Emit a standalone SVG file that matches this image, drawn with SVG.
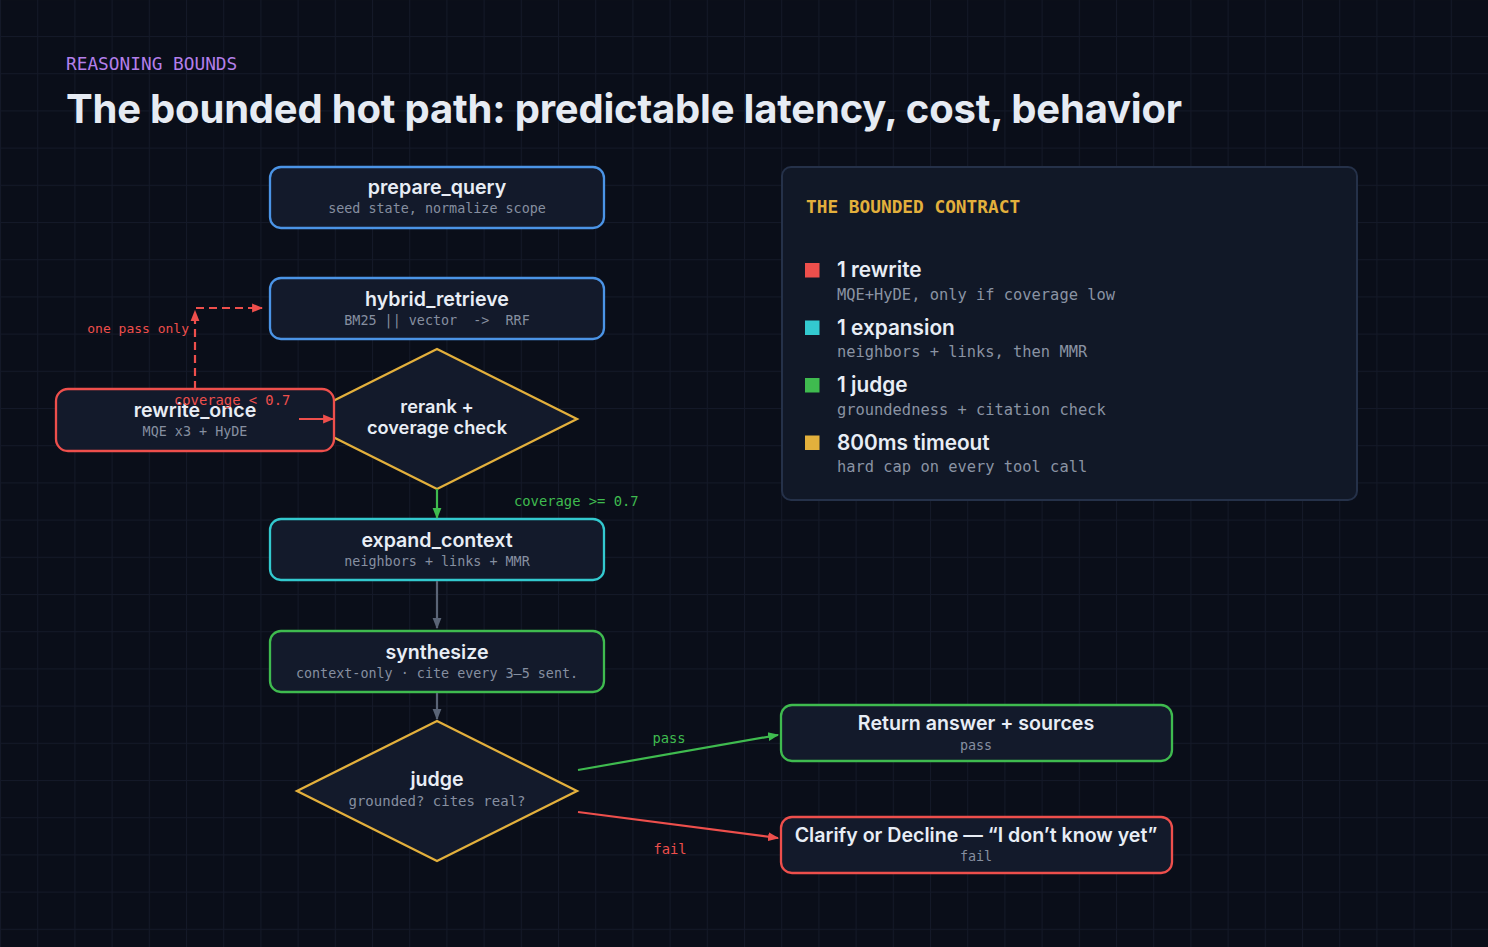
<svg xmlns="http://www.w3.org/2000/svg" width="1488" height="947" viewBox="0 0 1488 947">
  <defs>
    <style>
      .bg { fill: #0a0e19; }
      .eyebrow { font-family: "DejaVu Sans Mono", "Liberation Mono", monospace; font-size: 17.8px; font-weight: 500; }
      .title { font-family: Inter, "Liberation Sans", sans-serif; font-size: 40px; font-weight: 700; fill: #e6ebf3; letter-spacing: -0.2px; }
      .node { fill: #131a2b; stroke-width: 2.3; }
      .ntitle { font-family: Inter, "Liberation Sans", sans-serif; font-size: 19.6px; font-weight: 600; fill: #e8edf5; text-anchor: middle; }
      .nsub { font-family: "DejaVu Sans Mono", "Liberation Mono", monospace; font-size: 13.4px; fill: #868fa0; text-anchor: middle; }
      .lbl { font-family: "DejaVu Sans Mono", "Liberation Mono", monospace; font-size: 13.8px; }
      .conn { fill: none; stroke-width: 2.2; }
      .panel { fill: #111827; stroke: #253149; stroke-width: 2; }
      .ltitle { font-family: Inter, "Liberation Sans", sans-serif; font-size: 20.8px; font-weight: 600; fill: #e8edf5; }
      .lsub { font-family: "DejaVu Sans Mono", "Liberation Mono", monospace; font-size: 15.4px; fill: #8a93a3; }
      .blue { stroke: #4b94e6; }
      .red { stroke: #ee4f4c; }
      .cyan { stroke: #33c9cf; }
      .green { stroke: #3fbb4f; }
      .yellow { stroke: #e3b03c; }
      .gray { stroke: #5a6476; }
    </style>
    <pattern id="grid" patternUnits="userSpaceOnUse" x="0" y="-1.2" width="37.2" height="37.2">
      <rect x="0" y="0" width="1" height="37.2" fill="#141928"/>
      <rect x="0" y="0" width="37.2" height="1" fill="#141928"/>
    </pattern>
    <marker id="ah-green" viewBox="0 0 10 10" refX="9" refY="5" markerWidth="11" markerHeight="11" markerUnits="userSpaceOnUse" orient="auto">
      <path d="M0,1 L10,5 L0,9 z" fill="#3fbb4f"/>
    </marker>
    <marker id="ah-red" viewBox="0 0 10 10" refX="9" refY="5" markerWidth="11" markerHeight="11" markerUnits="userSpaceOnUse" orient="auto">
      <path d="M0,1 L10,5 L0,9 z" fill="#ee4f4c"/>
    </marker>
    <marker id="ah-gray" viewBox="0 0 10 10" refX="9" refY="5" markerWidth="11" markerHeight="11" markerUnits="userSpaceOnUse" orient="auto">
      <path d="M0,1 L10,5 L0,9 z" fill="#5a6476"/>
    </marker>
  </defs>

  <rect class="bg" x="0" y="0" width="1488" height="947"/>
  <rect x="0" y="0" width="1488" height="947" fill="url(#grid)"/>

  <text class="eyebrow" x="66" y="70" fill="#b37fea">REASONING BOUNDS</text>
  <text class="title" x="66" y="123">The bounded hot path: predictable latency, cost, behavior</text>

  <g id="node-prepare_query">
    <rect class="node blue" x="270" y="167" width="334" height="61" rx="11"/>
    <text class="ntitle" x="437" y="194">prepare_query</text>
    <text class="nsub" x="437" y="213">seed state, normalize scope</text>
  </g>

  <g id="node-hybrid_retrieve">
    <rect class="node blue" x="270" y="278" width="334" height="61" rx="11"/>
    <text class="ntitle" x="437" y="306">hybrid_retrieve</text>
    <text class="nsub" x="437" y="325" xml:space="preserve">BM25 || vector  -&gt;  RRF</text>
  </g>

  <g id="node-rerank">
    <polygon class="node yellow" points="437,349 577,419 437,489 297,419"/>
    <text class="ntitle" x="437" y="413" style="font-size:18.2px">rerank +</text>
    <text class="ntitle" x="437" y="434" style="font-size:18.2px">coverage check</text>
  </g>

  <g id="node-rewrite_once">
    <rect class="node red" x="56" y="389" width="278" height="62" rx="12"/>
    <text class="ntitle" x="195" y="417">rewrite_once</text>
    <text class="nsub" x="195" y="436">MQE x3 + HyDE</text>
  </g>

  <g id="node-expand_context">
    <rect class="node cyan" x="270" y="519" width="334" height="61" rx="11"/>
    <text class="ntitle" x="437" y="547">expand_context</text>
    <text class="nsub" x="437" y="566">neighbors + links + MMR</text>
  </g>

  <g id="node-synthesize">
    <rect class="node green" x="270" y="631" width="334" height="61" rx="11"/>
    <text class="ntitle" x="437" y="659">synthesize</text>
    <text class="nsub" x="437" y="678">context-only · cite every 3–5 sent.</text>
  </g>

  <g id="node-judge">
    <polygon class="node yellow" points="437,721 577,791 437,861 297,791"/>
    <text class="ntitle" x="437" y="786">judge</text>
    <text class="nsub" x="437" y="806" style="font-size:14px">grounded? cites real?</text>
  </g>

  <g id="node-return">
    <rect class="node green" x="781" y="705" width="391" height="56" rx="11"/>
    <text class="ntitle" x="976" y="730">Return answer + sources</text>
    <text class="nsub" x="976" y="750">pass</text>
  </g>

  <g id="node-clarify">
    <rect class="node red" x="781" y="817" width="391" height="56" rx="11"/>
    <text class="ntitle" x="976" y="842">Clarify or Decline — “I don’t know yet”</text>
    <text class="nsub" x="976" y="861">fail</text>
  </g>

  <g id="contract-panel">
    <rect class="panel" x="782" y="167" width="575" height="333" rx="9"/>
    <text class="eyebrow" x="806" y="213" fill="#e3b03c" style="font-weight:700">THE BOUNDED CONTRACT</text>
    <rect x="805" y="263" width="14.5" height="14.5" fill="#ee4f4c"/>
    <text class="ltitle" x="837" y="277">1 rewrite</text>
    <text class="lsub" x="837" y="299.5">MQE+HyDE, only if coverage low</text>
    <rect x="805" y="320.5" width="14.5" height="14.5" fill="#33c9cf"/>
    <text class="ltitle" x="837" y="334.5">1 expansion</text>
    <text class="lsub" x="837" y="357">neighbors + links, then MMR</text>
    <rect x="805" y="378" width="14.5" height="14.5" fill="#3fbb4f"/>
    <text class="ltitle" x="837" y="392">1 judge</text>
    <text class="lsub" x="837" y="414.5">groundedness + citation check</text>
    <rect x="805" y="435.5" width="14.5" height="14.5" fill="#e3b03c"/>
    <text class="ltitle" x="837" y="449.5">800ms timeout</text>
    <text class="lsub" x="837" y="472">hard cap on every tool call</text>
  </g>

  <g id="connectors">
    <path class="conn green" d="M437,489 V518" marker-end="url(#ah-green)"/>
    <text class="lbl" x="514" y="506" fill="#3fbb4f">coverage &gt;= 0.7</text>

    <path class="conn red" d="M299,419 H333" marker-end="url(#ah-red)"/>
    <text class="lbl" x="174" y="405" fill="#ee4f4c">coverage &lt; 0.7</text>

    <path class="conn red" d="M195,389 V311" stroke-dasharray="8 5" marker-end="url(#ah-red)"/>
    <path class="conn red" d="M196,308 H262" stroke-dasharray="8 5" marker-end="url(#ah-red)"/>
    <text class="lbl" x="189" y="333" fill="#ee4f4c" text-anchor="end" style="font-size:13px">one pass only</text>

    <path class="conn gray" d="M437,581 V628" marker-end="url(#ah-gray)"/>
    <path class="conn gray" d="M437,693 V719" marker-end="url(#ah-gray)"/>

    <path class="conn green" d="M578,770 L778,735" marker-end="url(#ah-green)"/>
    <text class="lbl" x="669" y="743" fill="#3fbb4f" text-anchor="middle">pass</text>

    <path class="conn red" d="M578,812 L778,838" marker-end="url(#ah-red)"/>
    <text class="lbl" x="670" y="854" fill="#ee4f4c" text-anchor="middle">fail</text>
  </g>
</svg>
